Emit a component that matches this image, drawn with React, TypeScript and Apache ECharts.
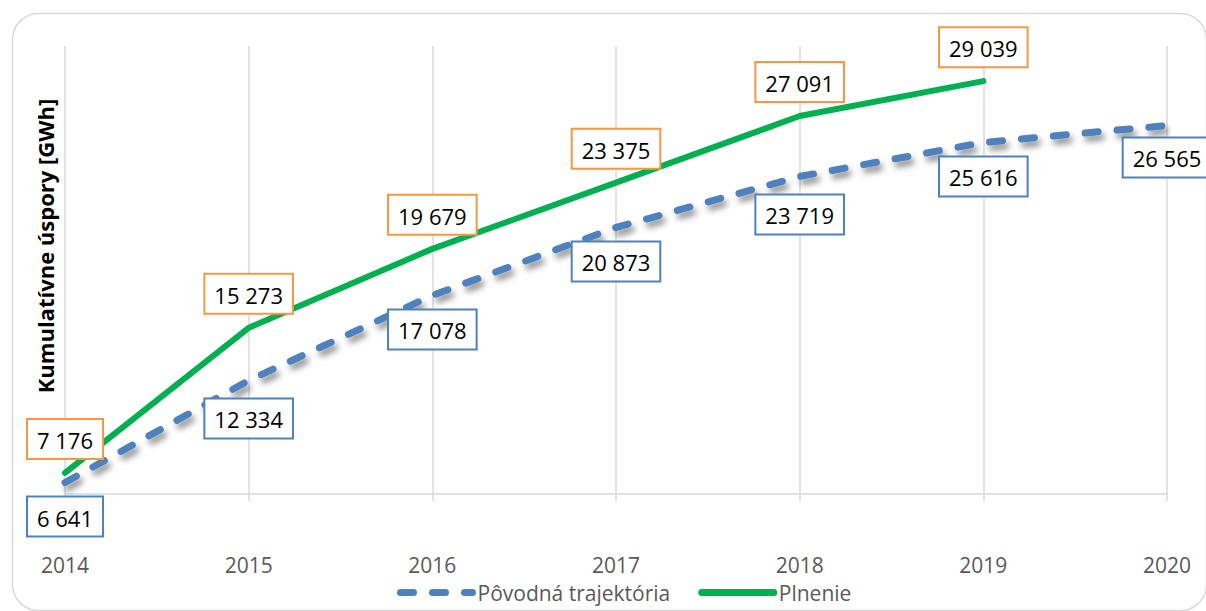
import React, { useEffect, useRef } from "react";
import * as echarts from "echarts";

const years = ["2014", "2015", "2016", "2017", "2018", "2019", "2020"];
const povodna = [6641, 12334, 17078, 20873, 23719, 25616, 26565];
const plnenie = [7176, 15273, 19679, 23375, 27091, 29039];
const seriesNames = ["Pôvodná trajektória", "Plnenie"];
const yTitle = "Kumulatívne úspory [GWh]";

const fmt = (v: number) => String(v).replace(/\B(?=(\d{3})+(?!\d))/g, " ");
const FONT = "'Open Sans', 'Noto Sans', sans-serif";

export default function App() {
  const ref = useRef<HTMLDivElement>(null);
  useEffect(() => {
    document.body.style.margin = "0";
    const chart = echarts.init(ref.current!, null, { renderer: "svg" });
    const blueDist = [15, 19, 15, 15, 19, 15, 13];
    chart.setOption({
      animation: false,
      backgroundColor: "#ffffff",
      textStyle: { fontFamily: FONT },
      grid: { left: 65, right: 39, top: 46, bottom: 117 },
      graphic: [
        {
          type: "rect",
          left: 10,
          top: 11,
          shape: { width: 1194, height: 597, r: 26 },
          style: { fill: "none", stroke: "#d9d9d9", lineWidth: 1.5 },
          silent: true,
          z: -1,
        },
        {
          type: "text",
          x: 45,
          y: 246,
          rotation: Math.PI / 2,
          style: {
            text: yTitle,
            fontFamily: FONT,
            fontSize: 22,
            fontWeight: "bold",
            fill: "#000000",
            align: "center",
            verticalAlign: "middle",
          },
        },
      ],
      legend: {
        top: 577,
        left: 392,
        itemWidth: 72,
        itemHeight: 14,
        itemGap: 28,
        itemStyle: { opacity: 0 },
        lineStyle: { width: 7, cap: "round", shadowBlur: 0, shadowColor: "rgba(0,0,0,0)", shadowOffsetX: 0, shadowOffsetY: 0 },
        textStyle: { fontFamily: FONT, fontSize: 21, color: "#595959" },
        data: seriesNames,
      },
      xAxis: {
        type: "category",
        data: years,
        boundaryGap: false,
        axisLine: { lineStyle: { color: "#d9d9d9", width: 1.5 } },
        axisTick: { show: true, length: 7, lineStyle: { color: "#d9d9d9", width: 1.5 } },
        splitLine: { show: true, lineStyle: { color: "#d9d9d9", width: 1.5 } },
        axisLabel: { margin: 60, fontSize: 21, color: "#595959", fontFamily: FONT },
      },
      yAxis: {
        type: "value",
        min: 6000,
        max: 31000,
        axisLine: { show: false },
        axisTick: { show: false },
        axisLabel: { show: false },
        splitLine: { show: false },
      },
      series: [
        {
          name: seriesNames[0],
          type: "line",
          data: povodna.map((v, i) => ({
            value: v,
            label: { distance: blueDist[i] },
          })),
          showSymbol: true,
          symbol: "circle",
          symbolSize: 0.01,
          color: "#4F81BD",
          z: 2,
          lineStyle: {
            color: "#4F81BD",
            width: 7,
            type: [13, 19],
            cap: "round",
            shadowColor: "rgba(0,0,0,0.45)",
            shadowBlur: 6,
            shadowOffsetX: 3,
            shadowOffsetY: 5,
          },
          label: {
            show: true,
            position: "bottom",
            formatter: (p: any) => fmt(p.value),
            fontFamily: FONT,
            fontSize: 22,
            color: "#000000",
            backgroundColor: "#ffffff",
            borderColor: "#4F81BD",
            borderWidth: 2,
            padding: [9, 9, 7, 9],
          },
        },
        {
          name: seriesNames[1],
          type: "line",
          data: plnenie,
          showSymbol: true,
          symbol: "circle",
          symbolSize: 0.01,
          color: "#00B050",
          z: 3,
          lineStyle: { color: "#00B050", width: 6, cap: "round" },
          label: {
            show: true,
            position: "top",
            distance: 15,
            formatter: (p: any) => fmt(p.value),
            fontFamily: FONT,
            fontSize: 22,
            color: "#000000",
            backgroundColor: "#ffffff",
            borderColor: "#F79646",
            borderWidth: 2,
            padding: [9, 9, 7, 9],
          },
        },
      ],
    });
    return () => chart.dispose();
  }, []);
  return (
    <div
      ref={ref}
      style={{ position: "fixed", left: 0, top: 0, width: 1206, height: 611, background: "#fff" }}
    />
  );
}
